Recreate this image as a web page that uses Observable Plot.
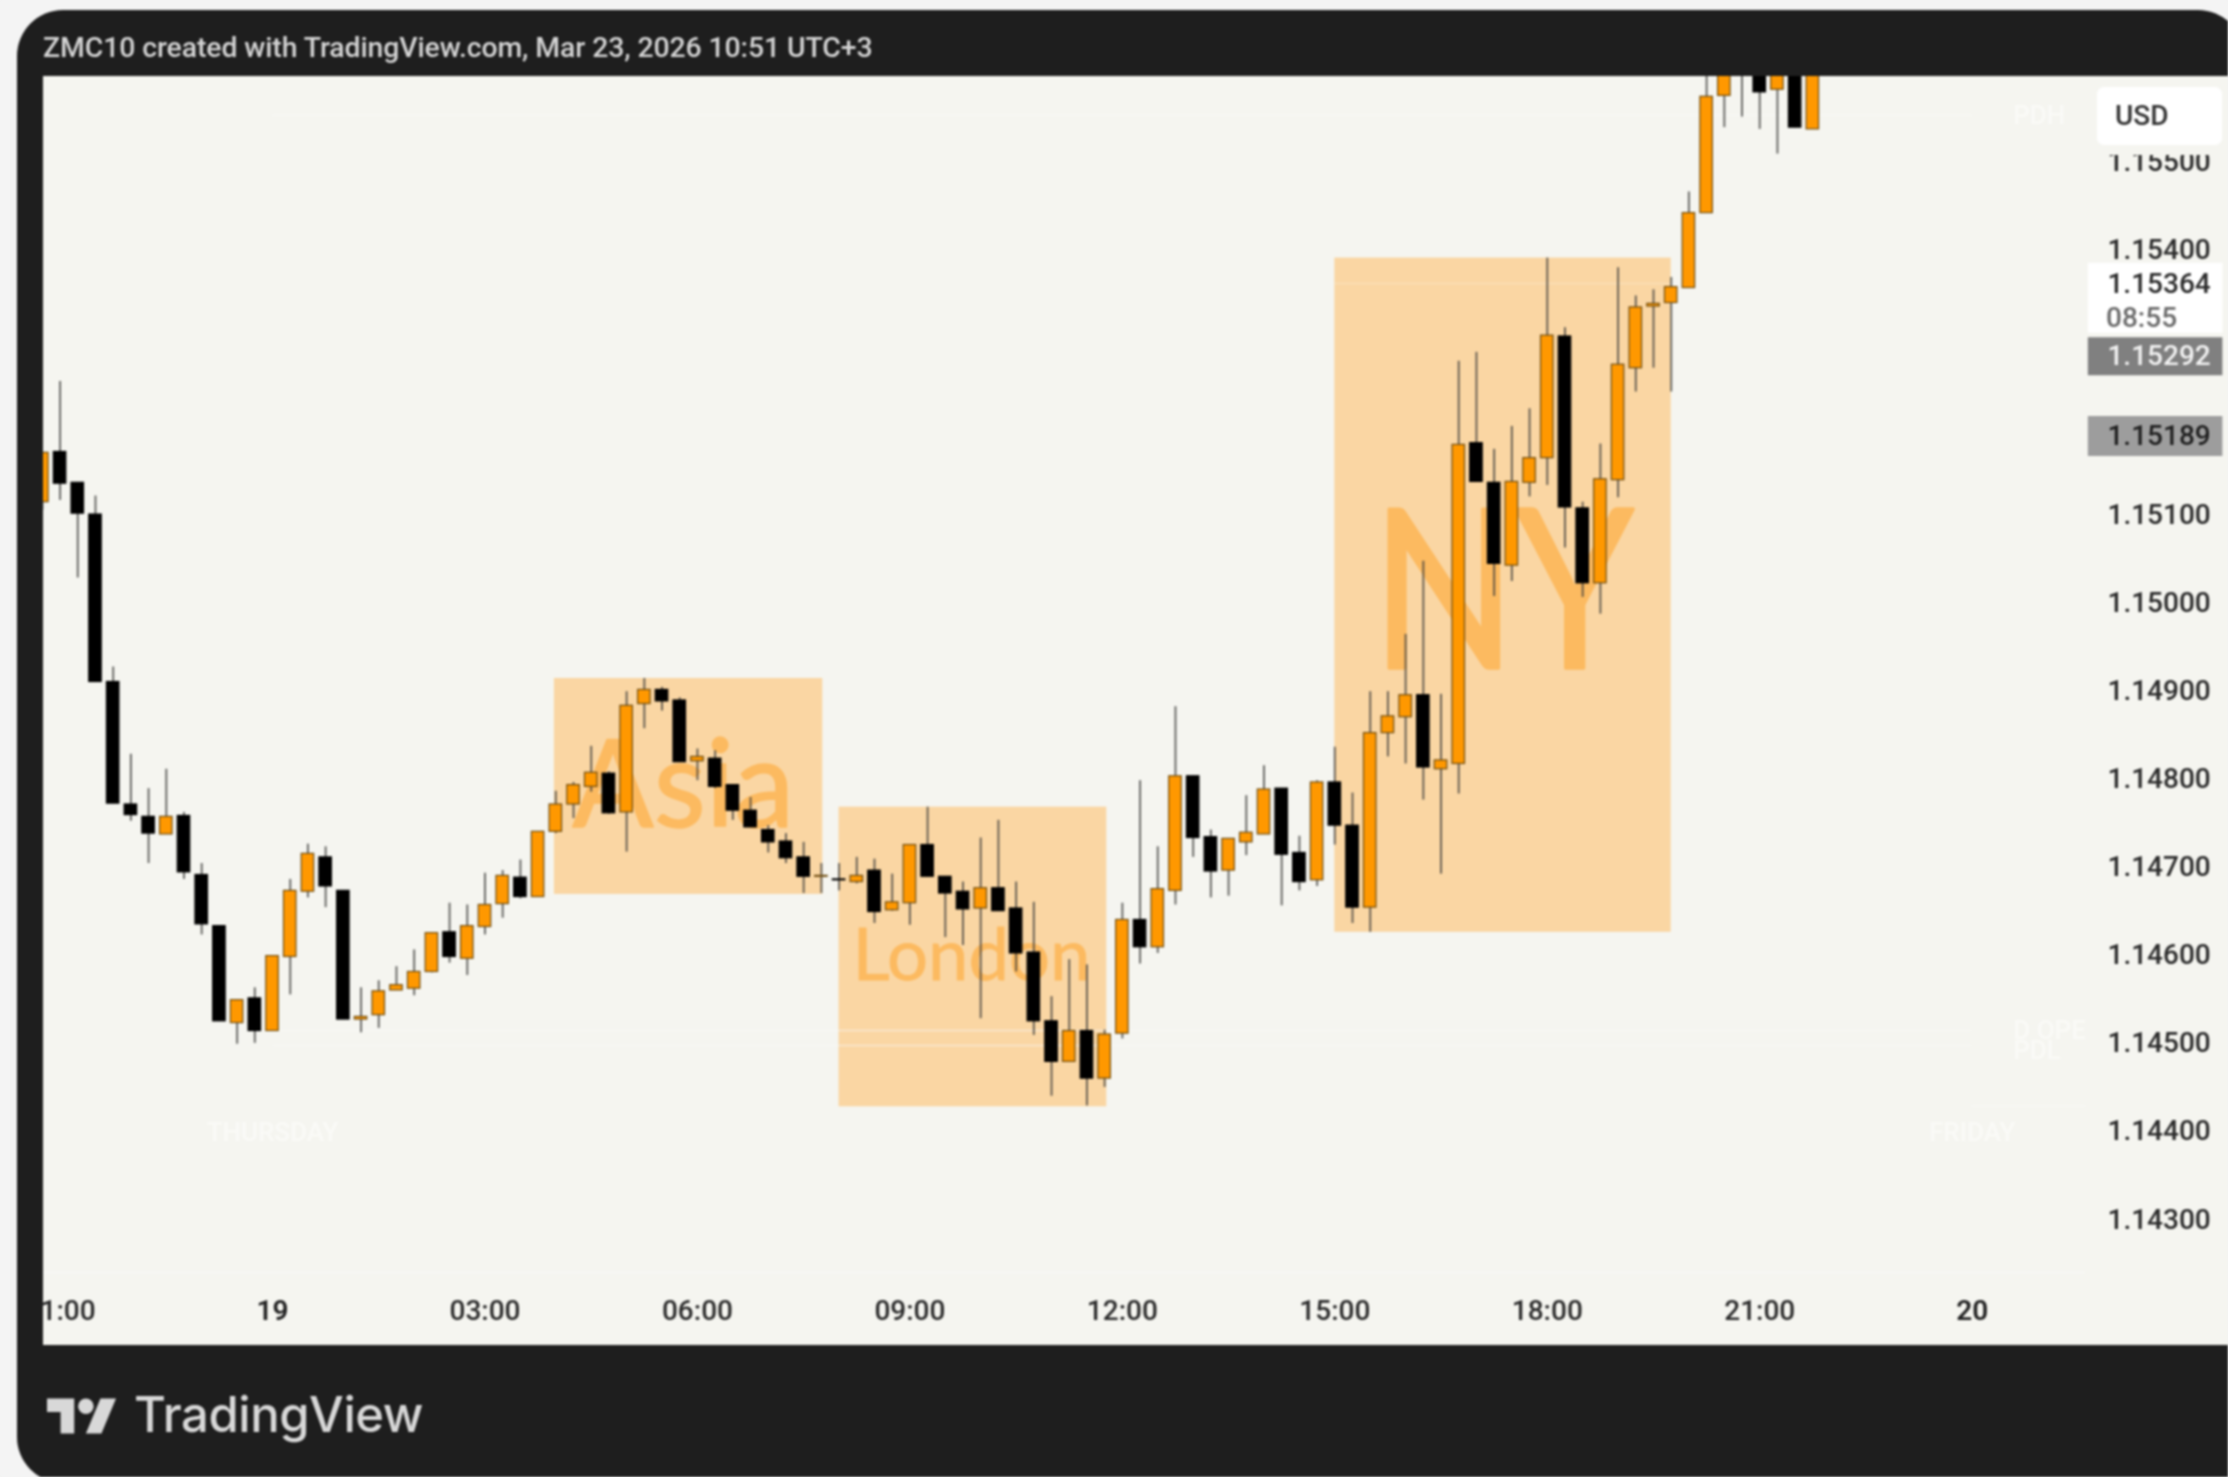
<!DOCTYPE html>
<html>
<head>
<meta charset="utf-8">
<script src="https://cdn.jsdelivr.net/npm/d3@7"></script>
<script src="https://cdn.jsdelivr.net/npm/@observablehq/plot@0.6"></script>
<style>
html,body{margin:0;padding:0;background:#f3f3f3;}
#page{position:relative;width:2228px;height:1477px;overflow:hidden;background:#f4f4f4;filter:blur(0.9px);font-family:Roboto,sans-serif;}
#card{position:absolute;left:17px;top:10px;width:2227px;height:1473px;background:#1e1e1e;border-radius:46px 46px 0 46px;}
#head{position:absolute;left:43px;top:30px;font-size:28.4px;font-weight:500;line-height:36px;color:#d4d4d4;white-space:nowrap;letter-spacing:-0.1px;}
#chart{position:absolute;left:43px;top:76px;width:2185px;height:1269px;}
#usd{position:absolute;left:2097px;top:87px;width:125px;height:58px;background:#fff;border-radius:7px;color:#333;font-size:28px;font-weight:500;line-height:58px;text-indent:18px;}
#mask{position:absolute;left:2097px;top:145px;width:125px;height:10px;background:#f5f5f0;}
#logo{position:absolute;left:47px;top:1397px;}
#brand{position:absolute;left:134px;top:1382px;font-family:Inter,sans-serif;font-size:49px;font-weight:500;line-height:66px;color:#d8d8d8;letter-spacing:-0.45px;white-space:nowrap;}
</style>
</head>
<body>
<div id="page">
  <div id="card"></div>
  <div id="head">ZMC10 created with TradingView.com, Mar 23, 2026 10:51 UTC+3</div>
  <div id="chart"></div>
  <div id="usd">USD</div>
  <div id="mask"></div>
  <svg id="logo" width="70" height="38" viewBox="0 4 36 18"><path fill="#d8d8d8" d="M14 22H7V11H0V4h14v18zM28 22h-8l7.5-18h8L28 22z"/><circle fill="#d8d8d8" cx="20" cy="8" r="4"/></svg>
  <div id="brand">TradingView</div>
</div>
<script>
// 15-minute candles, counted from 00:00 on the 19th
const firstIndex = -13;
const open = [1.15114,1.15171,1.15136,1.15100,1.14910,1.14771,1.14757,1.14737,1.14758,1.14691,1.14633,1.14523,1.14551,
1.14514,1.14598,1.14672,1.14711,1.14673,1.14527,1.14532,1.14560,1.14562,1.14581,1.14626,1.14596,1.14632,1.14658,1.14688,1.14666,
1.14740,1.14771,1.14791,1.14806,1.14762,1.14885,1.14901,1.14889,1.14820,1.14823,1.14793,1.14764,1.14742,1.14729,1.14711,1.14689,
1.14686,1.14683,1.14696,1.14651,1.14659,1.14725,1.14689,1.14672,1.14653,1.14676,1.14653,1.14603,1.14525,1.14479,1.14514,1.14460,
1.14511,1.14640,1.14609,1.14673,1.14803,1.14734,1.14696,1.14728,1.14737,1.14789,1.14716,1.14685,1.14796,1.14747,1.14654,1.14852,
1.14870,1.14895,1.14811,1.14817,1.15181,1.15136,1.15042,1.15136,1.15164,1.15302,1.15107,1.15022,1.15139,1.15266,1.15336,1.15340,
1.15357,1.15442,1.15575,1.15620,1.15620,1.15582,1.15640,1.15537];
const high = [1.15170,1.15251,1.15136,1.15121,1.14927,1.14828,1.14789,1.14811,1.14762,1.14704,1.14633,1.14549,1.14563,
1.14599,1.14686,1.14726,1.14723,1.14673,1.14563,1.14571,1.14587,1.14606,1.14625,1.14659,1.14657,1.14693,1.14696,1.14708,1.14740,
1.14786,1.14796,1.14837,1.14808,1.14899,1.14914,1.14904,1.14892,1.14834,1.14832,1.14793,1.14779,1.14747,1.14738,1.14728,1.14704,
1.14704,1.14711,1.14709,1.14692,1.14725,1.14768,1.14689,1.14683,1.14733,1.14753,1.14683,1.14660,1.14553,1.14595,1.14589,1.14515,
1.14659,1.14798,1.14723,1.14882,1.14803,1.14742,1.14732,1.14781,1.14815,1.14789,1.14735,1.14798,1.14836,1.14784,1.14899,1.14899,
1.14964,1.15047,1.14896,1.15274,1.15284,1.15174,1.15200,1.15220,1.15391,1.15312,1.15114,1.15180,1.15380,1.15348,1.15355,1.15369,
1.15466,1.15620,1.15640,1.15650,1.15640,1.15640,1.15650,1.15650];
const low = [1.15105,1.15116,1.15028,1.14910,1.14772,1.14752,1.14704,1.14737,1.14686,1.14623,1.14525,1.14499,1.14500,
1.14514,1.14555,1.14665,1.14654,1.14527,1.14512,1.14517,1.14560,1.14554,1.14580,1.14591,1.14577,1.14623,1.14642,1.14664,1.14666,
1.14738,1.14755,1.14785,1.14760,1.14717,1.14857,1.14877,1.14819,1.14798,1.14789,1.14753,1.14745,1.14716,1.14704,1.14670,1.14670,
1.14673,1.14681,1.14636,1.14650,1.14634,1.14689,1.14620,1.14611,1.14528,1.14650,1.14581,1.14509,1.14440,1.14479,1.14429,1.14450,
1.14505,1.14590,1.14602,1.14657,1.14711,1.14665,1.14667,1.14713,1.14737,1.14656,1.14673,1.14678,1.14725,1.14636,1.14626,1.14825,
1.14817,1.14776,1.14692,1.14783,1.15137,1.15007,1.15024,1.15120,1.15133,1.15062,1.15006,1.14987,1.15119,1.15239,1.15266,1.15239,
1.15357,1.15442,1.15539,1.15551,1.15537,1.15509,1.15539,1.15537];
const close = [1.15170,1.15135,1.15101,1.14910,1.14772,1.14759,1.14738,1.14757,1.14694,1.14635,1.14525,1.14549,1.14514,
1.14599,1.14673,1.14715,1.14678,1.14527,1.14530,1.14559,1.14566,1.14581,1.14625,1.14598,1.14633,1.14657,1.14690,1.14666,1.14740,
1.14771,1.14793,1.14807,1.14761,1.14883,1.14901,1.14888,1.14819,1.14825,1.14791,1.14764,1.14745,1.14728,1.14710,1.14689,1.14690,
1.14685,1.14690,1.14649,1.14660,1.14725,1.14689,1.14670,1.14652,1.14676,1.14650,1.14602,1.14525,1.14479,1.14514,1.14460,1.14510,
1.14640,1.14609,1.14675,1.14803,1.14733,1.14695,1.14732,1.14739,1.14788,1.14714,1.14683,1.14796,1.14747,1.14654,1.14852,1.14871,
1.14895,1.14813,1.14821,1.15179,1.15137,1.15044,1.15137,1.15164,1.15303,1.15108,1.15022,1.15140,1.15270,1.15335,1.15339,1.15358,
1.15442,1.15574,1.15610,1.15610,1.15579,1.15610,1.15539,1.15640];

const sessionNames = ["Asia","London","NY"];
const sessionStart = [3.98,8.0,15.0];
const sessionEnd = [7.77,11.78,19.75];
const sessionTop = [1.14914,1.14768,1.15391];
const sessionBottom = [1.14669,1.14428,1.14626];
const sessionLabelHour = [5.8,9.87,17.37];
const sessionLabelPrice = [1.14745,1.14572,1.14926];
const sessionLabelSize = [122,72,222];
const sessionLabelWidth = [222,238,262];
const sessionLabelStroke = [1.5,0.8,3.5];

const priceTicks = [1.143,1.144,1.145,1.146,1.147,1.148,1.149,1.150,1.151,1.154,1.155];
const hourTicks = [-3,3,6,9,12,15,18,21];
const hourLabels = ["21:00","03:00","06:00","09:00","12:00","15:00","18:00","21:00"];
const dayTicks = [0,24];
const dayLabels = ["19","20"];

const bg = "#f5f5f0", up = "#ff9800", upEdge = "#6f4e14", wick = "#3e3e3c", faint = "#fafaf7", caption = "#fcba60";
const candles = open.map((o,i)=>({hour:(firstIndex+i)/4,open:o,high:high[i],low:low[i],close:close[i],rising:close[i]>=o}));
const sessions = sessionNames.map((name,i)=>({name,x1:sessionStart[i],x2:sessionEnd[i],y1:sessionBottom[i],y2:sessionTop[i],lx:sessionLabelHour[i],ly:sessionLabelPrice[i],size:sessionLabelSize[i],w:sessionLabelWidth[i],sw:sessionLabelStroke[i]}));
const half = 0.088;

const plot = Plot.plot({
  width:2185, height:1269,
  marginLeft:0, marginRight:143, marginTop:0, marginBottom:73,
  style:{background:bg,fontFamily:"Roboto,sans-serif",fontSize:"28px",fontWeight:500,overflow:"hidden"},
  x:{domain:[-3.234,25.6]},
  y:{domain:[1.14240,1.15597]},
  marks:[
    Plot.rect(sessions,{x1:"x1",x2:"x2",y1:"y1",y2:"y2",fill:"#fad6a3"}),
    ...sessions.map(s=>Plot.text([s],{x:"lx",y:"ly",text:"name",fill:caption,stroke:caption,strokeWidth:s.sw,fontFamily:"Lato,sans-serif",fontWeight:400,fontSize:s.size,lineAnchor:"bottom",textAnchor:"middle",className:"session"})),
    // faint level lines and their labels
    Plot.ruleY([1.15553,1.145145,1.144975],{x1:0,x2:24,stroke:faint,strokeOpacity:0.55,strokeWidth:1.5}),
    Plot.ruleY([1.15362],{x1:15,x2:19.75,stroke:"#ffffff",strokeOpacity:0.22,strokeWidth:1.5}),
    Plot.ruleY([1.14429],{x1:24,x2:25.6,stroke:faint,strokeOpacity:0.6,strokeWidth:1.5}),
    Plot.ruleY([1.14240],{stroke:faint,strokeOpacity:0.7,strokeWidth:2}),
    Plot.text(["PDH"],{x:24.58,y:1.15553,text:d=>d,fill:faint,fontSize:26,textAnchor:"start"}),
    Plot.text(["D OPEN"],{x:24.58,y:1.14514,text:d=>d,fill:faint,fontSize:26,textAnchor:"start",clip:"frame"}),
    Plot.text(["PDL"],{x:24.58,y:1.14492,text:d=>d,fill:faint,fontSize:26,textAnchor:"start"}),
    Plot.text(["THURSDAY"],{x:0,y:1.14399,text:d=>d,fill:faint,fontSize:26}),
    Plot.text(["FRIDAY"],{x:24,y:1.14399,text:d=>d,fill:faint,fontSize:26}),
    // candles
    Plot.ruleX(candles,{x:"hour",y1:"low",y2:"high",stroke:wick,strokeWidth:2,strokeOpacity:0.75,clip:"frame"}),
    Plot.rect(candles,{x1:d=>d.hour-half,x2:d=>d.hour+half,y1:"open",y2:"close",
      fill:d=>d.rising?up:"#000000",stroke:d=>d.rising?upEdge:"#000000",strokeWidth:1.2,clip:"frame"}),
    // axes
    Plot.axisY({anchor:"right",ticks:priceTicks,tickFormat:d=>d.toFixed(5),tickSize:0,tickPadding:22,color:"#2b2b2b",label:null}),
    Plot.axisX({ticks:hourTicks,tickFormat:d=>hourLabels[hourTicks.indexOf(d)],tickSize:0,tickPadding:28,color:"#2b2b2b",label:null}),
    Plot.axisX({ticks:dayTicks,tickFormat:d=>dayLabels[dayTicks.indexOf(d)],tickSize:0,tickPadding:28,color:"#222",fontWeight:600,label:null}),
    // price tags
    Plot.ruleY([1.15364],{x1:25.64,x2:27.54,dy:16,stroke:"#ffffff",strokeWidth:70}),
    Plot.text(["1.15364"],{x:25.91,y:1.15364,text:d=>d,dy:2,textAnchor:"start",fill:"#2b2b2b"}),
    Plot.text(["08:55"],{x:25.89,y:1.15364,text:d=>d,dy:36,textAnchor:"start",fill:"#6a6a6a"}),
    Plot.ruleY([1.15292],{x1:25.64,x2:27.54,dy:11,stroke:"#808080",strokeWidth:38}),
    Plot.text(["1.15292"],{x:25.91,y:1.15292,text:d=>d,dy:11,textAnchor:"start",fill:"#f2f2f2"}),
    Plot.ruleY([1.15189],{x1:25.64,x2:27.54,stroke:"#9d9d9d",strokeWidth:40}),
    Plot.text(["1.15189"],{x:25.91,y:1.15189,text:d=>d,textAnchor:"start",fill:"#1f1f1f"})
  ]
});
document.getElementById("chart").appendChild(plot);
// squeeze the session captions to the widths the reference shows
d3.select(plot).selectAll("g.session text").each(function(){
  const s = sessions.find(v=>v.name===this.textContent);
  if (s) { this.setAttribute("textLength",s.w); this.setAttribute("lengthAdjust","spacingAndGlyphs"); }
});
</script>
</body>
</html>
